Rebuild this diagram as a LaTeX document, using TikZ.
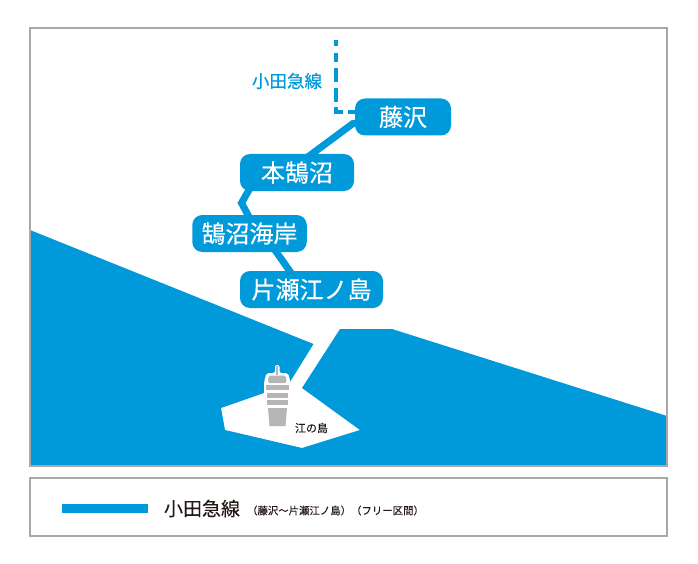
\documentclass[tikz,border=0pt]{standalone}
\usepackage{fontspec}
\usetikzlibrary{backgrounds}
\setmainfont{Noto Sans CJK JP}[FakeBold=0.35]
\newfontfamily\lightcjk{Noto Sans CJK JP}[FakeBold=0.12]
\definecolor{odakyu}{HTML}{0099DA}
\definecolor{framegray}{HTML}{A8A8A8}
\definecolor{towergray}{HTML}{B5B5B6}
\definecolor{inkdark}{HTML}{231815}
\tikzset{
  stationbox/.style={fill=odakyu,text=white,rounded corners=10pt,minimum height=37pt,inner sep=0pt,font=\fontsize{24}{24}\selectfont},
  mainline/.style={draw=odakyu,line width=7pt,line join=miter},
  branchline/.style={draw=odakyu,line width=4.4pt},
  framebox/.style={draw=framegray,line width=1.1pt},
  towerband/.style={fill=towergray,draw=none},
  plainlabel/.style={inner sep=0pt,anchor=center}
}
\begin{document}
\begin{tikzpicture}[x=1pt,y=-1pt]
\useasboundingbox (0,0) rectangle (698,564);
% sea
\fill[odakyu] (30,230) -- (313.5,344) -- (290,382) -- (264,393) -- (221,408) -- (225,430) -- (302,448) -- (360,430) -- (302,388) -- (340,329) -- (392,329) -- (667,416) -- (667,466) -- (30,466) -- cycle;
% tower
\fill[white,rounded corners=2pt] (264,382) -- (266.5,373) -- (275,373) -- (275,365) -- (279.5,365) -- (279.5,373) -- (288,373) -- (290.5,382) -- (290.5,400) -- (289,428) -- (266,428) -- (264,400) -- cycle;
\fill[towergray] (276.3,366) rectangle (278.3,375);
\fill[towergray,rounded corners=2pt] (268,383) -- (268.5,375.5) -- (286,375.5) -- (286.5,383) -- cycle;
\fill[towerband] (266,385) rectangle (288.5,390);
\fill[towerband] (267,392.5) rectangle (287.5,397.5);
\fill[towerband] (267,400) rectangle (287.5,404.5);
\fill[towerband] (268,408) -- (287,408) -- (285.5,426) -- (269.5,426) -- cycle;
\node[plainlabel,text=inkdark,font=\lightcjk\fontsize{11}{11}\selectfont] (enoshima) at (311.5,428) {江の島};
% stations
\node[stationbox,minimum width=96pt] (fujisawa) at (403,117) {藤沢};
\node[stationbox,minimum width=114pt] (hongo) at (297,172.5) {本鵠沼};
\node[stationbox,minimum width=114.5pt] (kugenuma) at (249.5,233.5) {鵠沼海岸};
\node[stationbox,minimum width=143pt] (katase) at (311.5,289.5) {片瀬江ノ島};
% connectors
\coordinate (bend) at (241.5,203);
\coordinate (fujibend) at (353,123.5);
\begin{pgfonlayer}{background}
\draw[mainline] ([xshift=8pt,yshift=-6.5pt]fujisawa.west) -- (fujibend) -- ([xshift=11pt,yshift=-3pt]hongo.north);
\draw[mainline] ([xshift=-47pt,yshift=3pt]hongo.south) -- (bend) -- ([yshift=-3pt]kugenuma.north);
\draw[mainline] ([xshift=24.5pt,yshift=3.5pt]kugenuma.south) -- ([xshift=-19.5pt,yshift=-3.5pt]katase.north);
\end{pgfonlayer}
% branch
\coordinate (branchtop) at (335.7,40);
\coordinate (branchcorner) at (335.7,112);
\draw[branchline] (branchtop) -- (335.7,46) (335.7,53) -- (335.7,62) (335.7,68) -- (335.7,82) (335.7,88) -- (335.7,102) (335.7,107) -- (branchcorner) -- (343,112) (348,112) -- (fujisawa.west |- 0,112);
\node[plainlabel,text=odakyu,font=\fontsize{17.5}{17.5}\selectfont] (label) at (287,81) {小田急線};
% frames
\draw[framebox] (30,28) rectangle (667,466);
\draw[framebox] (30,478) rectangle (667,536);
% legend
\fill[odakyu] (62,504) rectangle (148,512.5);
\node[plainlabel,text=inkdark,font=\lightcjk\fontsize{19}{19}\selectfont] (legend) at (202,508.5) {小田急線};
\node[plainlabel,text=inkdark,font=\lightcjk\fontsize{10.4}{10.4}\selectfont] (note) at (335.5,510.5) {（藤沢～片瀬江ノ島）（フリー区間）};
\end{tikzpicture}
\end{document}
